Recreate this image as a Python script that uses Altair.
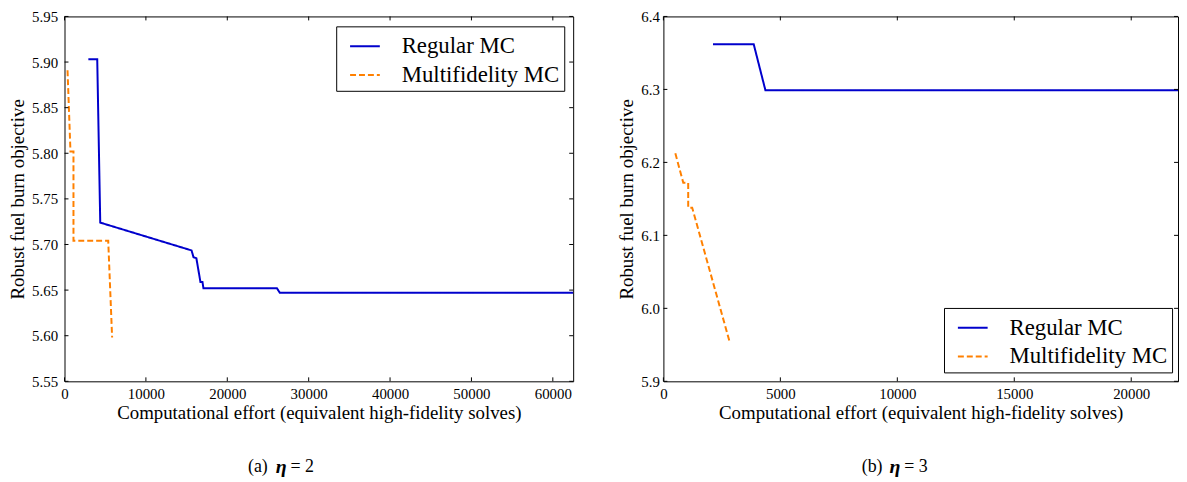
import altair as alt
import pandas as pd

# ---------------- data ----------------
series = ["Regular MC", "Multifidelity MC"]

# (a) eta = 2
a_reg_x = [2930, 4020, 4390, 15610, 15850, 16200, 16700, 16950, 17070, 26100, 26460, 62500]
a_reg_y = [5.903, 5.903, 5.724, 5.6935, 5.686, 5.685, 5.659, 5.659, 5.652, 5.652, 5.647, 5.647]
a_mf_x = [370, 730, 1100, 1100, 5370, 5850]
a_mf_y = [5.891, 5.802, 5.802, 5.704, 5.704, 5.598]
a_xticks = [0, 10000, 20000, 30000, 40000, 50000, 60000]
a_yticks = [5.55, 5.60, 5.65, 5.70, 5.75, 5.80, 5.85, 5.90, 5.95]

# (b) eta = 3
b_reg_x = [2120, 3860, 4360, 22000]
b_reg_y = [6.362, 6.362, 6.299, 6.299]
b_mf_x = [510, 850, 1060, 1060, 1230, 2840]
b_mf_y = [6.2125, 6.172, 6.172, 6.138, 6.138, 5.953]
b_xticks = [0, 5000, 10000, 15000, 20000]
b_yticks = [5.9, 6.0, 6.1, 6.2, 6.3, 6.4]

FONT = "Liberation Serif"
XTITLE = "Computational effort (equivalent high-fidelity solves)"
YTITLE = "Robust fuel burn objective"


def make_df(rx, ry, mx, my):
    rows = []
    for i, (x, y) in enumerate(zip(rx, ry)):
        rows.append({"x": x, "y": y, "series": series[0], "idx": i})
    for i, (x, y) in enumerate(zip(mx, my)):
        rows.append({"x": x, "y": y, "series": series[1], "idx": i})
    return pd.DataFrame(rows)


def panel(df, xdom, ydom, xticks, yticks, yfmt, W, H, lx, ly, cap, capx, lab_pad):
    xs = alt.Scale(domain=xdom, nice=False, zero=False)
    ys = alt.Scale(domain=ydom, nice=False, zero=False)
    xax = alt.Axis(values=xticks, format="d", title=XTITLE, ticks=False, domain=False,
                   grid=False, labelPadding=5, titlePadding=2, labelFlush=False)
    yax = alt.Axis(values=yticks, format=yfmt, title=YTITLE, ticks=False, domain=False,
                   grid=False, labelPadding=lab_pad, titlePadding=4, labelFlush=False)
    leg = alt.Legend(
        orient="none", legendX=lx, legendY=ly, title=None,
        strokeColor="black", fillColor="white", padding=4, cornerRadius=0,
        symbolType="stroke", symbolSize=900, symbolStrokeWidth=2,
        symbolOffset=9, labelOffset=21, rowPadding=1,
        labelFont=FONT, labelFontSize=23, labelColor="black", labelLimit=400,
    )
    lines = alt.Chart(df).mark_line(strokeWidth=2, clip=True).encode(
        x=alt.X("x:Q", scale=xs, axis=xax),
        y=alt.Y("y:Q", scale=ys, axis=yax),
        color=alt.Color("series:N", scale=alt.Scale(domain=series, range=["#0000CC", "#FF8000"]), legend=leg),
        strokeDash=alt.StrokeDash("series:N", scale=alt.Scale(domain=series, range=[[1, 0], [6, 3]]), legend=leg),
        order="idx:Q",
    )
    ydf = pd.DataFrame({"y": yticks})
    xdf = pd.DataFrame({"x": xticks})
    tk = dict(color="black", strokeWidth=1)
    yl = alt.Chart(ydf).mark_rule(**tk).encode(y=alt.Y("y:Q", scale=ys, axis=yax), x=alt.value(0), x2=alt.value(4))
    yr = alt.Chart(ydf).mark_rule(**tk).encode(y=alt.Y("y:Q", scale=ys, axis=yax), x=alt.value(W - 4), x2=alt.value(W))
    xb = alt.Chart(xdf).mark_rule(**tk).encode(x=alt.X("x:Q", scale=xs, axis=xax), y=alt.value(H), y2=alt.value(H - 4))
    xt = alt.Chart(xdf).mark_rule(**tk).encode(x=alt.X("x:Q", scale=xs, axis=xax), y=alt.value(0), y2=alt.value(4))

    capy = H + 86
    c1 = alt.Chart(pd.DataFrame({"t": [cap[0]]})).mark_text(
        font=FONT, fontSize=18, align="left", baseline="middle", color="black").encode(
        text="t:N", x=alt.value(capx), y=alt.value(capy))
    c2 = alt.Chart(pd.DataFrame({"t": ["η"]})).mark_text(
        font=FONT, fontSize=20, fontStyle="italic", fontWeight="bold", align="left",
        baseline="middle", color="black").encode(text="t:N", x=alt.value(capx + 28), y=alt.value(capy))
    c3 = alt.Chart(pd.DataFrame({"t": [cap[1]]})).mark_text(
        font=FONT, fontSize=18, align="left", baseline="middle", color="black").encode(
        text="t:N", x=alt.value(capx + 43), y=alt.value(capy))
    return alt.layer(lines, yl, yr, xb, xt, c1, c2, c3).properties(width=W, height=H)


left = panel(make_df(a_reg_x, a_reg_y, a_mf_x, a_mf_y), [0, 62500], [5.55, 5.95],
             a_xticks, a_yticks, ".2f", 513, 368, 274, 10, ("(a)", "= 2"), 185, 7)
right = panel(make_df(b_reg_x, b_reg_y, b_mf_x, b_mf_y), [0, 22000], [5.9, 6.4],
              b_xticks, b_yticks, ".1f", 519, 368, 283, 294, ("(b)", "= 3"), 200, 4)

chart = alt.hconcat(left, right, spacing=91, bounds="flush").resolve_scale(
    x="independent", y="independent", color="independent", strokeDash="independent"
).properties(
    padding={"left": 0, "top": -1.5, "right": 0, "bottom": 0}
).configure_view(
    stroke="black", strokeWidth=1
).configure_axis(
    labelFont=FONT, labelFontSize=15, labelColor="black",
    titleFont=FONT, titleFontSize=19, titleFontWeight="normal", titleColor="black",
)

chart.save("out.html", embed_options={"renderer": "svg", "actions": False})
